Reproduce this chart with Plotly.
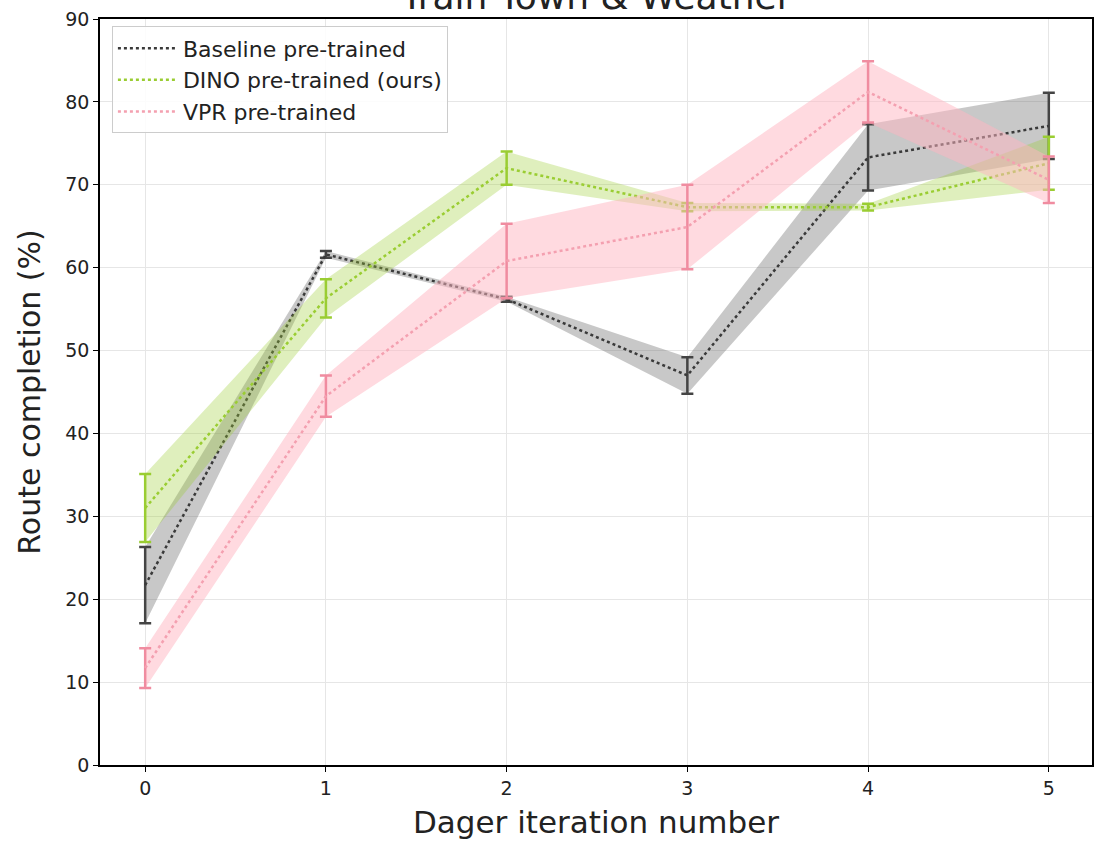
import plotly.graph_objects as go

iterations = [0, 1, 2, 3, 4, 5]

baseline_mean = [21.7, 61.6, 56.2, 47.0, 73.3, 77.1]
baseline_std = [4.6, 0.4, 0.3, 2.2, 4.0, 4.0]

dino_mean = [31.0, 56.3, 72.0, 67.3, 67.3, 72.6]
dino_std = [4.1, 2.3, 2.0, 0.5, 0.4, 3.2]

vpr_mean = [11.7, 44.5, 60.8, 64.9, 81.2, 70.6]
vpr_std = [2.4, 2.5, 4.5, 5.1, 3.7, 2.8]

series = [
    ("Baseline pre-trained", baseline_mean, baseline_std, "#3a3a3a", "#444444", "rgba(110,110,110,0.38)"),
    ("DINO pre-trained (ours)", dino_mean, dino_std, "#9acd32", "#9acd32", "rgba(154,205,50,0.32)"),
    ("VPR pre-trained", vpr_mean, vpr_std, "#f4a0b0", "#f08ca0", "rgba(255,182,193,0.5)"),
]

fig = go.Figure()
for name, m, s, lc, ec, fc in series:
    upper = [a + b for a, b in zip(m, s)]
    lower = [a - b for a, b in zip(m, s)]
    fig.add_trace(go.Scatter(
        x=iterations + iterations[::-1], y=upper + lower[::-1],
        fill="toself", fillcolor=fc, line=dict(width=0), mode="lines",
        hoverinfo="skip", showlegend=False))
    fig.add_trace(go.Scatter(
        x=iterations, y=m, mode="lines", name=name,
        line=dict(color=lc, dash="dot", width=2.5),
        error_y=dict(type="data", array=s, visible=True, color=ec, thickness=2.5, width=6)))

font = "DejaVu Sans, sans-serif"
fig.update_layout(
    width=1094, height=842,
    margin=dict(l=100, r=0, t=19, b=77),
    plot_bgcolor="white", paper_bgcolor="white",
    font=dict(family=font, size=19, color="#222"),
    showlegend=True,
    legend=dict(x=0.012, y=0.99, xanchor="left", yanchor="top",
                bgcolor="rgba(255,255,255,0.85)", bordercolor="#cccccc", borderwidth=1,
                font=dict(size=22, family=font, color="#222"), tracegroupgap=0, itemwidth=60),
    xaxis=dict(range=[-0.25, 5.239], tickvals=iterations, ticktext=[str(i) for i in iterations],
               showgrid=True, gridcolor="#e6e6e6", gridwidth=1,
               showline=True, linecolor="black", linewidth=1.5, mirror=True,
               ticks="outside", ticklen=5, tickcolor="black", zeroline=False,
               title=dict(text="Dager iteration number", font=dict(size=31, family=font), standoff=14)),
    yaxis=dict(range=[0, 90], tickvals=[0, 10, 20, 30, 40, 50, 60, 70, 80, 90],
               showgrid=True, gridcolor="#e6e6e6", gridwidth=1,
               showline=True, linecolor="black", linewidth=1.5, mirror=True,
               ticks="outside", ticklen=5, tickcolor="black", zeroline=False,
               title=dict(text="Route completion (%)", font=dict(size=30, family=font), standoff=16)),
    annotations=[dict(text="Train Town & Weather", x=0.5, y=1, xref="paper", yref="paper",
                      xanchor="center", yanchor="bottom", yshift=0, showarrow=False,
                      font=dict(size=36, family=font, color="#222"))],
)

fig.write_html("out.html")
